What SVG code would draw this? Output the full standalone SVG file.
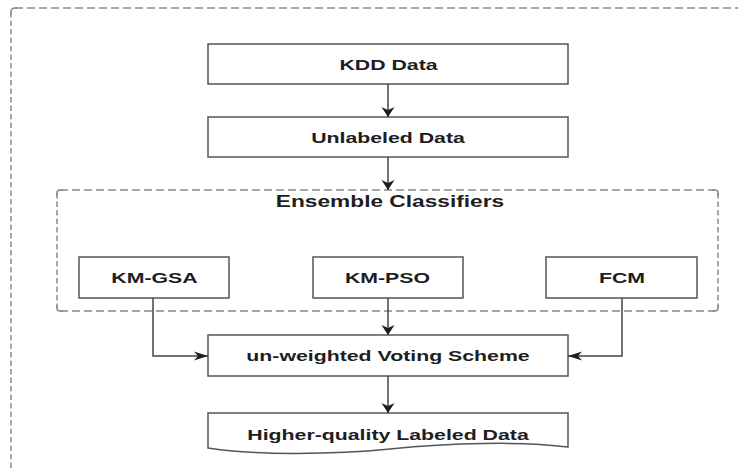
<svg xmlns="http://www.w3.org/2000/svg" width="738" height="468" viewBox="0 0 738 468">
  <style>
    .box { fill: #ffffff; stroke: #555555; stroke-width: 1.5; }
    .lbl { font-family: "Liberation Sans", Arial, sans-serif; font-weight: bold; font-size: 15px; fill: #1e1e1e; text-anchor: middle; }
    .title { font-size: 16px; }
    .dashH { fill: none; stroke: #8a8a8a; stroke-width: 1.5; stroke-dasharray: 8 4; }
    .dashV { fill: none; stroke: #8a8a8a; stroke-width: 1.5; stroke-dasharray: 5.5 3; }
    .corner { fill: none; stroke: #8a8a8a; stroke-width: 1.5; }
    .edge { fill: none; stroke: #444444; stroke-width: 1.5; }
  </style>
  <defs>
    <marker id="arrowV" markerUnits="userSpaceOnUse" viewBox="0 -7 10 14" refX="10" refY="0" markerWidth="10" markerHeight="14" orient="auto">
      <path d="M0,-6.5 L10,0 L0,6.5 L3,0 Z" fill="#1e1e1e"/>
    </marker>
    <marker id="arrowH" markerUnits="userSpaceOnUse" viewBox="0 -5 14 10" refX="14" refY="0" markerWidth="14" markerHeight="10" orient="auto">
      <path d="M0,-4.5 L14,0 L0,4.5 L4,0 Z" fill="#1e1e1e"/>
    </marker>
  </defs>

  <rect width="738" height="468" fill="#ffffff"/>

  <!-- outer frame (runs off the right and bottom edges) -->
  <g id="outer-frame">
    <line class="dashH" x1="15" y1="8" x2="738" y2="8"/>
    <line class="dashV" x1="11" y1="12" x2="11" y2="468"/>
    <path class="corner" d="M11,14 V12 Q11,8 15,8 H17"/>
  </g>

  <!-- ensemble group frame; labels are drawn with a wide horizontal scale -->
  <g id="ensemble">
    <line class="dashH" x1="60" y1="190" x2="715" y2="190"/>
    <line class="dashH" x1="60" y1="311" x2="715" y2="311"/>
    <line class="dashV" x1="57" y1="193" x2="57" y2="308"/>
    <line class="dashV" x1="718" y1="193" x2="718" y2="308"/>
    <path class="corner" d="M57,196 V193 Q57,190 60,190 H63"/>
    <path class="corner" d="M712,190 H715 Q718,190 718,193 V196"/>
    <path class="corner" d="M57,305 V308 Q57,311 60,311 H63"/>
    <path class="corner" d="M712,311 H715 Q718,311 718,308 V305"/>
    <text class="lbl title" transform="translate(390,207) scale(1.42,1)">Ensemble Classifiers</text>
  </g>

  <g id="kdd-data">
    <rect class="box" x="208" y="44" width="360" height="40"/>
    <text class="lbl" transform="translate(388.5,70) scale(1.42,1)">KDD Data</text>
  </g>

  <g id="unlabeled-data">
    <rect class="box" x="208" y="117" width="360" height="40"/>
    <text class="lbl" transform="translate(388,143) scale(1.42,1)">Unlabeled Data</text>
  </g>

  <g id="km-gsa">
    <rect class="box" x="79" y="257" width="150" height="41"/>
    <text class="lbl" transform="translate(154.5,283) scale(1.42,1)">KM-GSA</text>
  </g>

  <g id="km-pso">
    <rect class="box" x="313" y="257" width="150" height="41"/>
    <text class="lbl" transform="translate(387.5,283) scale(1.42,1)">KM-PSO</text>
  </g>

  <g id="fcm">
    <rect class="box" x="546" y="257" width="151" height="41"/>
    <text class="lbl" transform="translate(622,283) scale(1.42,1)">FCM</text>
  </g>

  <g id="voting">
    <rect class="box" x="208" y="335" width="360" height="41"/>
    <text class="lbl" transform="translate(388,361) scale(1.42,1)">un-weighted Voting Scheme</text>
  </g>

  <g id="labeled-output">
    <path class="box" d="M208,413 H568 V447 C520,441 450,443 390,449 C330,455 250,455 208,448 Z"/>
    <text class="lbl" transform="translate(388,440) scale(1.42,1)">Higher-quality Labeled Data</text>
  </g>

  <!-- connectors -->
  <g id="connectors">
    <line class="edge" x1="388" y1="84" x2="388" y2="117" marker-end="url(#arrowV)"/>
    <line class="edge" x1="388" y1="157" x2="388" y2="190" marker-end="url(#arrowV)"/>
    <line class="edge" x1="388" y1="298" x2="388" y2="335" marker-end="url(#arrowV)"/>
    <polyline class="edge" points="153,298 153,356 208,356" marker-end="url(#arrowH)"/>
    <polyline class="edge" points="622,298 622,356 568,356" marker-end="url(#arrowH)"/>
    <line class="edge" x1="388" y1="376" x2="388" y2="413" marker-end="url(#arrowV)"/>
  </g>
</svg>
